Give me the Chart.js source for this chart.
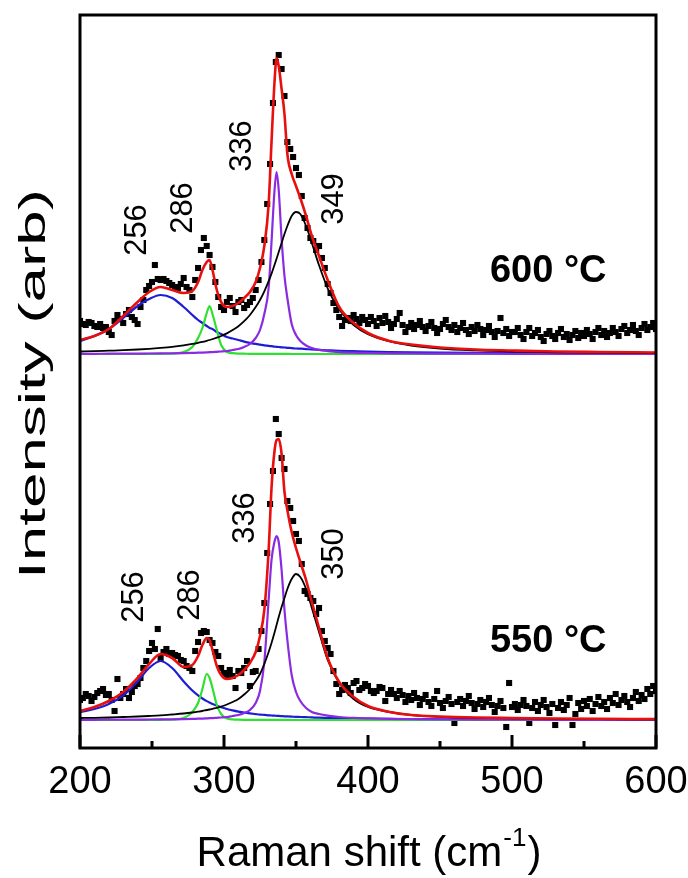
<!DOCTYPE html>
<html>
<head>
<meta charset="utf-8">
<script src="https://cdn.jsdelivr.net/npm/chart.js@4.4.1/dist/chart.umd.min.js"></script>
<style>
  html, body { margin: 0; padding: 0; background: #fff; }
  #wrap { width: 688px; height: 878px; }
</style>
</head>
<body>
<div id="wrap"><canvas id="raman" width="688" height="878"></canvas></div>
<script>
// Raman spectra, 600 °C and 550 °C, with the fitted peak components.

// ---- data --------------------------------------------------------------

// grid of the fit curves (cm-1)
const fitShift = [200, 210, 220, 230, 240, 248, 256, 264, 272, 278,
  282, 285, 288, 290, 292, 295, 298, 302, 306, 310,
  314, 318, 322, 325, 328, 331, 333, 335, 336.5, 338,
  340, 342, 344, 347, 350, 353, 357, 361, 366, 372,
  380, 390, 400, 415, 430, 450, 475, 500, 530, 560, 600];

// 600 °C fit
const fit600Blue = [13, 18, 25, 36, 48, 55, 59, 56, 47, 39,
  34, 31, 28, 26, 25, 22, 20, 17, 15.5, 14,
  12.4, 11.2, 10.1, 9.4, 8.7, 8.1, 7.8, 7.4, 7.2, 7.0,
  6.7, 6.5, 6.2, 5.9, 5.5, 5.3, 4.9, 4.5, 4.1, 3.7,
  3.2, 2.8, 2.4, 2.0, 1.7, 1.4, 1.1, 0.9, 0.7, 0.6, 0.4];
const fit600Green = [0, 0, 0, 0, 0, 0.1, 0.2, 0.5, 2, 7,
  16, 26, 41, 48, 40, 24, 9, 2, 0.8, 0.4,
  0.3, 0.2, 0.2, 0.1, 0.1, 0.1, 0.1, 0.1, 0.1, 0.1,
  0.1, 0.1, 0.1, 0, 0, 0, 0, 0, 0, 0,
  0, 0, 0, 0, 0, 0, 0, 0, 0, 0, 0];
const fit600Purple = [0.2, 0.2, 0.3, 0.3, 0.4, 0.5, 0.6, 0.7, 0.9, 1.1,
  1.3, 1.4, 1.6, 1.8, 1.9, 2.2, 2.5, 3, 4, 5,
  7, 10, 16, 24, 40, 66, 112, 162, 182, 164,
  115, 78, 56, 30, 19, 13, 8.5, 6, 4.1, 2.9,
  1.9, 1.3, 1, 0.7, 0.5, 0.4, 0.3, 0.2, 0.2, 0.1, 0.1];
const fit600Black = [2.5, 2.8, 3.3, 3.8, 4.5, 5.2, 6.1, 7.2, 8.7, 10.1,
  11.2, 12.1, 13.2, 14, 14.9, 16.3, 18, 20.6, 23.9, 27.8,
  32.8, 39, 46.9, 54, 62.6, 72.8, 80.4, 88.7, 95.3, 102,
  111, 120, 128, 138, 142, 140, 128, 111, 88.7, 65.7,
  44.6, 29, 19.9, 12.5, 8.5, 5.5, 3.6, 2.5, 1.7, 1.3, 0.9];
const fit600Red = [14, 18, 25, 38, 52, 62, 67, 64, 61, 63,
  72, 84, 92, 94, 84, 64, 52, 47, 48, 51,
  56, 62, 72, 86, 108, 150, 212, 270, 296, 288,
  265, 240, 200, 180, 168, 156, 138, 118, 98, 74,
  47, 31, 21, 13, 9.5, 6.5, 4.5, 3.5, 2.5, 2, 1.5];

// 550 °C fit
const fit550Blue = [7.9, 11, 16, 24.6, 38.6, 52, 59, 52, 38.6, 29.5,
  24.6, 21.5, 18.9, 17.4, 16, 14.3, 12.7, 11, 9.6, 8.4,
  7.4, 6.6, 5.9, 5.4, 5.1, 4.7, 4.5, 4.3, 4.2, 4.1,
  3.9, 3.7, 3.6, 3.4, 3.1, 3.0, 2.8, 2.6, 2.3, 2.1,
  1.8, 1.6, 1.3, 1.1, 0.9, 0.75, 0.6, 0.5, 0.4, 0.35, 0.3];
const fit550Green = [0, 0, 0, 0, 0, 0.1, 0.2, 0.5, 2, 8,
  17, 31, 46, 42, 32, 15, 6, 1.5, 0.6, 0.3,
  0.2, 0.2, 0.1, 0.1, 0.1, 0.1, 0.1, 0.1, 0.1, 0.1,
  0.1, 0.1, 0.1, 0, 0, 0, 0, 0, 0, 0,
  0, 0, 0, 0, 0, 0, 0, 0, 0, 0, 0];
const fit550Purple = [0.2, 0.2, 0.3, 0.3, 0.4, 0.5, 0.6, 0.7, 0.9, 1.1,
  1.3, 1.4, 1.6, 1.8, 1.9, 2.2, 2.5, 3, 4, 5,
  7, 10, 17, 29, 58, 120, 160, 178, 184, 178,
  150, 110, 80, 45, 28, 19, 12, 8, 6, 4.4,
  3, 2.1, 1.6, 1.1, 0.8, 0.6, 0.4, 0.3, 0.2, 0.2, 0.1];
const fit550Black = [2, 2.2, 2.5, 3, 3.5, 4, 4.6, 5.5, 6.5, 7.5,
  8.3, 9, 10, 10.5, 11.2, 12.2, 13.5, 15.5, 18, 21,
  25.5, 31, 39, 46, 56, 68, 77, 87, 95, 103,
  113, 122, 131, 141, 146, 143, 131, 112, 88, 60,
  37, 21, 13, 8, 5, 3.2, 2.2, 1.6, 1.2, 0.9, 0.7];
const fit550Red = [9, 13, 19, 28, 42, 56, 66, 62, 53, 55,
  64, 75, 82, 80, 70, 54, 45, 41, 42, 45,
  50, 57, 68, 84, 110, 170, 232, 268, 280, 281,
  266, 228, 210, 188, 172, 158, 140, 118, 92, 62,
  38, 23, 14, 8, 5, 3.5, 2.5, 2, 1.5, 1.2, 1];

// measured points (cm-1)
const dataShift = [
  200, 202, 204, 206, 208, 210, 212, 214, 216, 218, 220, 222, 224, 226, 228, 230, 232, 234, 236, 238,
  240, 242, 244, 246, 248, 250, 252, 254, 256, 258, 260, 262, 264, 266, 268, 270, 272, 274, 276, 278,
  280, 282, 284, 286, 288, 290, 292, 294, 296, 298, 300, 302, 304, 306, 308, 310, 312, 314, 316, 318,
  320, 322, 324, 326, 328, 330, 332, 334, 336, 338, 340, 342, 344, 346, 348, 350, 352, 354, 356, 358,
  360, 362, 364, 366, 368, 370, 372, 374, 376, 378, 380, 382, 384, 386, 388, 390, 392, 394, 396, 398,
  400, 402, 404, 406, 408, 410, 412, 414, 416, 418, 420, 422, 424, 426, 428, 430, 432, 434, 436, 438,
  440, 442, 444, 446, 448, 450, 452, 454, 456, 458, 460, 462, 464, 466, 468, 470, 472, 474, 476, 478,
  480, 482, 484, 486, 488, 490, 492, 494, 496, 498, 500, 502, 504, 506, 508, 510, 512, 514, 516, 518,
  520, 522, 524, 526, 528, 530, 532, 534, 536, 538, 540, 542, 544, 546, 548, 550, 552, 554, 556, 558,
  560, 562, 564, 566, 568, 570, 572, 574, 576, 578, 580, 582, 584, 586, 588, 590, 592, 594, 596, 598,
  600];
const data600 = [
  33, 30, 29, 32, 31, 28, 27, 30, 26, 27, 22, 19, 33, 39, 35, 31, 40, 44, 37, 34,
  30, 47, 54, 64, 68, 72, 89, 75, 74, 75, 73, 71, 69, 67, 66, 70, 76, 67, 64, 57,
  74, 86, 104, 116, 108, 99, 87, 72, 57, 47, 44, 52, 56, 48, 42, 52, 54, 46, 49, 52,
  56, 64, 74, 92, 114, 150, 190, 251, 292, 299, 285, 258, 212, 205, 197, 186, 179, 158, 136, 126,
  116, 113, 104, 108, 96, 86, 70, 61, 51, 44, 37, 28, 34, 36, 33, 39, 35, 31, 37, 34,
  30, 37, 33, 28, 36, 31, 38, 32, 26, 30, 35, 41, 29, 22, 27, 31, 25, 29, 33, 27,
  23, 28, 32, 26, 21, 25, 30, 34, 27, 24, 29, 22, 26, 31, 24, 20, 27, 23, 29, 25,
  19, 24, 28, 22, 17, 23, 36, 21, 25, 18, 22, 22, 26, 19, 15, 22, 26, 18, 21, 24,
  17, 13, 20, 23, 18, 15, 21, 25, 17, 20, 14, 19, 23, 16, 21, 18, 24, 20, 15, 22,
  26, 19, 23, 17, 21, 26, 22, 18, 25, 28, 21, 24, 29, 23, 19, 26, 30, 24, 27, 31,
  25];
const data550 = [
  20, 22, 26, 24, 19, 23, 27, 29, 31, 25, 26, 20, 9, 41, 22, 26, 31, 22, 28, 34,
  36, 42, 52, 59, 69, 77, 71, 91, 62, 68, 71, 66, 67, 65, 64, 60, 59, 54, 52, 49,
  69, 78, 87, 89, 88, 80, 77, 68, 64, 52, 47, 44, 50, 44, 32, 49, 47, 52, 59, 34,
  48, 49, 71, 89, 117, 167, 216, 249, 301, 286, 262, 251, 219, 212, 199, 186, 179, 156, 129, 126,
  122, 119, 106, 112, 89, 79, 72, 66, 49, 36, 26, 30, 35, 32, 27, 37, 39, 30, 32, 36,
  34, 29, 27, 29, 33, 32, 19, 26, 30, 26, 22, 29, 25, 18, 24, 20, 27, 22, 15, 21,
  25, 18, 14, 21, 29, 17, 12, 19, 23, 16, -3, 18, 21, 14, 19, 24, 17, 11, 16, 20,
  13, 18, 22, 15, 8, 14, 19, 12, -7, 37, 13, 16, 10, 15, 20, 14, -3, 12, 18, 9,
  15, 20, 13, 7, 16, -5, 12, 18, 10, 15, 22, -5, 6, 17, 11, 19, 14, 21, 9, 16,
  23, 14, 18, 11, 22, 17, 26, 15, 20, 24, 18, 13, 22, 28, 19, 25, 21, 31, 26, 34,
  29];

// vertical offsets that stack the two spectra
const offset600 = 394;
const offset550 = 28;

// peak annotations: text, position (cm-1), height above the spectrum baseline
const peakText600 = ['256', '286', '336', '349'];
const peakShift600 = [240, 271.5, 312.5, 376.4];
const peakHeight600 = [124, 146, 208, 155];
const peakText550 = ['256', '286', '336', '350'];
const peakShift550 = [237.5, 277, 314.6, 376.4];
const peakHeight550 = [123, 125, 202, 166];

const tempText = ['600 °C', '550 °C'];
const tempShift = [484.7, 484.7];
const tempHeight = [offset600 + 72, offset550 + 68];

const xTicks = [200, 250, 300, 350, 400, 450, 500, 550, 600];

// ---- helpers -----------------------------------------------------------

const FONT = '"Liberation Sans", Arial, Helvetica, sans-serif';

function toPoints(xs, ys, off) {
  return xs.map((v, i) => ({ x: v, y: ys[i] + off }));
}

function fitLine(label, ys, off, color, width) {
  return {
    label: label,
    data: toPoints(fitShift, ys, off),
    showLine: true,
    borderColor: color,
    borderWidth: width,
    pointRadius: 0,
    cubicInterpolationMode: 'monotone',
    fill: false
  };
}

function measured(label, ys, off) {
  return {
    label: label,
    data: toPoints(dataShift, ys, off),
    showLine: false,
    pointStyle: 'rect',
    pointRadius: 4.3,
    pointBackgroundColor: '#000',
    pointBorderWidth: 0,
    pointBorderColor: '#000'
  };
}

const RED = '#e8100f', BLUE = '#1d1dd6', GREEN = '#30e030', PURPLE = '#8a2be2', BLACK = '#000';

// ---- decorations: frame, inner ticks, titles, peak labels ----------------

const decor = {
  id: 'decor',
  afterDraw(chart) {
    const { ctx, chartArea: a, scales } = chart;
    const x = scales.x, y = scales.y;
    ctx.save();

    ctx.strokeStyle = '#000';
    ctx.lineWidth = 3;
    xTicks.forEach(v => {
      const px = Math.round(x.getPixelForValue(v));
      const len = v % 100 === 0 ? 13 : 7;
      ctx.beginPath();
      ctx.moveTo(px, a.bottom);
      ctx.lineTo(px, a.bottom - len);
      ctx.stroke();
    });
    ctx.strokeRect(a.left, a.top, a.right - a.left, a.bottom - a.top);

    ctx.fillStyle = '#000';

    // peak positions, written vertically
    ctx.font = '31px ' + FONT;
    ctx.textAlign = 'center';
    ctx.textBaseline = 'middle';
    const drawPeaks = (texts, shifts, heights, off) => {
      texts.forEach((t, i) => {
        ctx.save();
        ctx.translate(x.getPixelForValue(shifts[i]), y.getPixelForValue(heights[i] + off));
        ctx.rotate(-Math.PI / 2);
        ctx.fillText(t, 0, 0);
        ctx.restore();
      });
    };
    drawPeaks(peakText600, peakShift600, peakHeight600, offset600);
    drawPeaks(peakText550, peakShift550, peakHeight550, offset550);

    // temperatures
    ctx.font = 'bold 38px ' + FONT;
    ctx.textAlign = 'left';
    ctx.textBaseline = 'alphabetic';
    tempText.forEach((t, i) => {
      ctx.fillText(t, x.getPixelForValue(tempShift[i]), y.getPixelForValue(tempHeight[i]));
    });

    // x title with superscript
    const main = 'Raman shift (cm', sup = '-1', tail = ')';
    ctx.font = '42px ' + FONT;
    const w1 = ctx.measureText(main).width;
    const w3 = ctx.measureText(tail).width;
    ctx.font = '26px ' + FONT;
    const w2 = ctx.measureText(sup).width;
    const cx = (a.left + a.right) / 2;
    const base = 866;
    let sx = cx - (w1 + w2 + w3) / 2;
    ctx.font = '42px ' + FONT;
    ctx.fillText(main, sx, base);
    ctx.font = '26px ' + FONT;
    ctx.fillText(sup, sx + w1 + 1, base - 20);
    ctx.font = '42px ' + FONT;
    ctx.fillText(tail, sx + w1 + w2 + 2, base);

    // y title (drawn long and narrow, as in the source figure)
    ctx.font = '37px ' + FONT;
    ctx.textAlign = 'center';
    ctx.textBaseline = 'middle';
    const yt = 'Intensity (arb)';
    const natural = ctx.measureText(yt).width;
    ctx.translate(35, 384);
    ctx.rotate(-Math.PI / 2);
    ctx.scale(390 / natural, 1);
    ctx.fillText(yt, 0, 0);

    ctx.restore();
  }
};

// ---- chart ---------------------------------------------------------------

Chart.defaults.font.family = FONT;
Chart.defaults.color = '#000';

new Chart(document.getElementById('raman'), {
  type: 'scatter',
  data: {
    datasets: [
      fitLine('600 °C fit', fit600Red, offset600, RED, 2.6),
      fitLine('550 °C fit', fit550Red, offset550, RED, 2.6),
      fitLine('600 °C 349', fit600Black, offset600, BLACK, 1.8),
      fitLine('550 °C 350', fit550Black, offset550, BLACK, 1.8),
      fitLine('600 °C 336', fit600Purple, offset600, PURPLE, 2.2),
      fitLine('550 °C 336', fit550Purple, offset550, PURPLE, 2.2),
      fitLine('600 °C 286', fit600Green, offset600, GREEN, 2.2),
      fitLine('550 °C 286', fit550Green, offset550, GREEN, 2.2),
      fitLine('600 °C 256', fit600Blue, offset600, BLUE, 2.2),
      fitLine('550 °C 256', fit550Blue, offset550, BLUE, 2.2),
      measured('600 °C data', data600, offset600),
      measured('550 °C data', data550, offset550)
    ]
  },
  options: {
    responsive: false,
    animation: false,
    devicePixelRatio: 1,
    // the x axis takes 2 * tick padding + label line height; the rest is bottom padding
    layout: { padding: { left: 80, right: 32, top: 15, bottom: 60.4 } },
    plugins: { legend: { display: false }, tooltip: { enabled: false } },
    scales: {
      x: {
        type: 'linear',
        min: 200,
        max: 600,
        grid: { display: false, drawTicks: false },
        border: { display: false },
        ticks: { stepSize: 100, padding: 12, color: '#000', font: { size: 38 } },
        afterFit(scale) { scale.paddingLeft = 0; scale.paddingRight = 0; }
      },
      y: {
        display: false,
        min: 0,
        max: 733
      }
    }
  },
  plugins: [decor]
});
</script>
</body>
</html>
